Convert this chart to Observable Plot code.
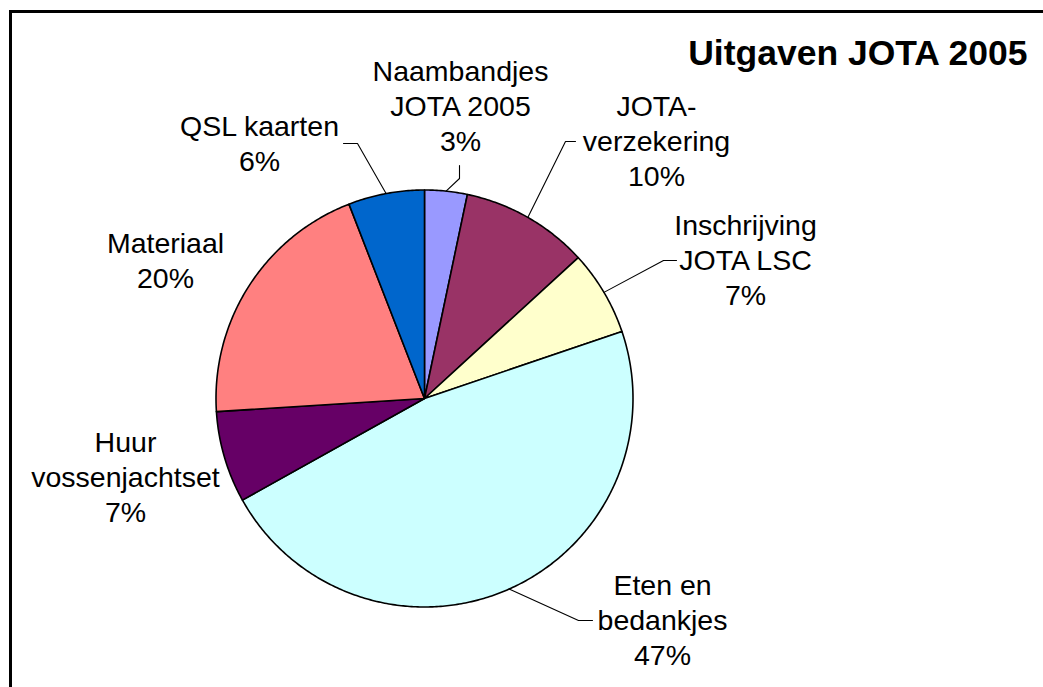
<!DOCTYPE html>
<html>
<head>
<meta charset="utf-8">
<script src="https://cdn.jsdelivr.net/npm/d3@7"></script>
<script src="https://cdn.jsdelivr.net/npm/@observablehq/plot@0.6"></script>
<style>
  html, body { margin: 0; padding: 0; background: #fff; overflow: hidden; }
  #wrap { position: relative; width: 1043px; height: 687px; overflow: hidden; }
  #border { position: absolute; left: 9px; top: 10px; width: 1100px; height: 760px;
            border: 3px solid #000; pointer-events: none; box-sizing: border-box; }
</style>
</head>
<body>
<div id="wrap"><div id="border"></div></div>
<script>
// ---- data ----
const title = "Uitgaven JOTA 2005";
const categories = ["Naambandjes\nJOTA 2005", "JOTA-\nverzekering", "Inschrijving\nJOTA LSC",
                    "Eten en\nbedankjes", "Huur\nvossenjachtset", "Materiaal", "QSL kaarten"];
const shares = [3.3, 9.9, 6.6, 47.1, 7.1, 20.1, 5.9];   // percent
const colors = ["#9999FF", "#993366", "#FFFFCC", "#CCFFFF", "#660066", "#FF8080", "#0066CC"];

// ---- layout (pixels) ----
const W = 1043, H = 687;
const cx = 424, cy = 398, R = 208.5;
// label block centre and leader line bend points (null = no leader)
const labelLayout = [
  {x: 460, y: 104, leader: [[459, 178], [459, 165]]},
  {x: 656, y: 139, leader: [[565, 141], [575, 141]]},
  {x: 745, y: 258, leader: [[663, 260], [676, 260]]},
  {x: 662, y: 618, leader: [[578, 620], [592, 620]]},
  {x: 125, y: 475, leader: null},
  {x: 165, y: 259, leader: null},
  {x: 259, y: 142, leader: [[357, 143], [343, 143]]}
];

const arcs = d3.pie().sort(null).value(d => d)(shares);
const pt = (a, r) => [cx + r * Math.sin(a), cy - r * Math.cos(a)];

// slice polygons
const slicePts = [];
arcs.forEach((a, i) => {
  const cat = categories[i];
  slicePts.push({cat, x: cx, y: cy});
  const n = Math.max(4, Math.ceil((a.endAngle - a.startAngle) / 0.01));
  for (let k = 0; k <= n; k++) {
    const ang = a.startAngle + (a.endAngle - a.startAngle) * k / n;
    const [x, y] = pt(ang, R);
    slicePts.push({cat, x, y});
  }
  slicePts.push({cat, x: cx, y: cy});
});

// leader lines
const leaderPts = [];
arcs.forEach((a, i) => {
  const L = labelLayout[i];
  if (!L.leader) return;
  const mid = (a.startAngle + a.endAngle) / 2;
  const [x0, y0] = pt(mid, R);
  leaderPts.push({cat: categories[i], x: x0, y: y0});
  L.leader.forEach(([x, y]) => leaderPts.push({cat: categories[i], x, y}));
});

const labels = categories.map((c, i) => ({
  text: `${c}\n${Math.round(shares[i])}%`,
  x: labelLayout[i].x, y: labelLayout[i].y
}));

const chart = Plot.plot({
  width: W, height: H,
  margin: 0,
  x: {domain: [0, W], range: [0, W], axis: null},
  y: {domain: [0, H], range: [0, H], axis: null},
  color: {domain: categories, range: colors},
  style: {background: "white", overflow: "visible"},
  marks: [
    Plot.line(slicePts, {x: "x", y: "y", z: "cat", fill: "cat", stroke: "#000",
                         strokeWidth: 1.6, strokeLinejoin: "round", curve: "linear"}),
    Plot.line(leaderPts, {x: "x", y: "y", z: "cat", stroke: "#000", strokeWidth: 1.1}),
    Plot.text(labels, {x: "x", y: "y", text: "text", textAnchor: "middle", lineAnchor: "middle",
                       lineHeight: 1.23, fontSize: 28.5, fontFamily: "Liberation Sans, Arial, sans-serif",
                       fill: "#000"}),
    Plot.text([title], {x: () => 1027, y: () => 53, text: d => d, textAnchor: "end", lineAnchor: "middle",
                        fontSize: 35.5, fontWeight: "bold", fontFamily: "Liberation Sans, Arial, sans-serif",
                        fill: "#000"})
  ]
});
document.getElementById("wrap").insertBefore(chart, document.getElementById("border"));
</script>
</body>
</html>
